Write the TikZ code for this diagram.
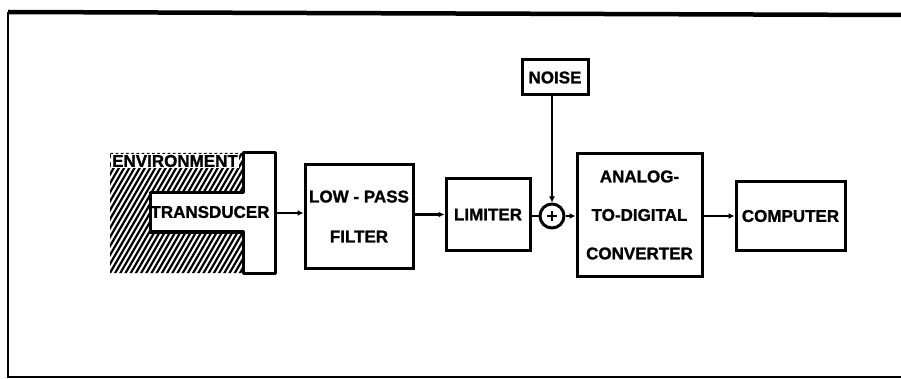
\documentclass[tikz,border=0pt]{standalone}
\usepackage{fontspec}
\setmainfont{Liberation Sans}[BoldFeatures={FakeBold=1.2}]
\usetikzlibrary{arrows.meta}
\begin{document}
\begin{tikzpicture}[x=1pt,y=-1pt,
  lett/.style={font=\fontsize{17}{20}\selectfont\bfseries},
  blk/.style={draw, line width=3pt, inner sep=0pt, lett, align=center},
  conn/.style={line width=2.6pt, -{Latex[length=6pt,width=6pt]}},
  frameline/.style={line width=2pt},
  hatchline/.style={line width=2.2pt}]
\useasboundingbox (0,0) rectangle (901,379);
% frame
\draw[line width=4.5pt] (8,12) -- (901,15);
\draw[frameline] (8,12) -- (8,377) -- (901,377);
% environment hatching
\begin{scope}
  \clip (110,153) -- (243,153) -- (243,193) -- (150,193) -- (150,232) -- (243,232) -- (243,273) -- (110,273) -- cycle;
  \foreach \i in {0,...,50} {
    \draw[hatchline] (36+\i*5.2,275) -- ++(72,-124);
  }
\end{scope}
\node[lett, fill=white, inner sep=1pt] (env) at (175,161) {ENVIRONMENT};
% transducer T-shape
\draw[line width=3pt, line join=round] (150,193) -- (243,193) -- (243,153) -- (275,153) -- (275,273) -- (243,273) -- (243,232) -- (150,232) -- cycle;
\node[lett] (trans) at (210,212) {TRANSDUCER};
\node[minimum width=32pt, minimum height=120pt, inner sep=0pt] (bar) at (259,213) {};
% blocks
\node[blk, minimum width=108pt, minimum height=103pt, font=\fontsize{17}{40}\selectfont\bfseries] (lpf) at (359,216.5) {LOW - PASS\\FILTER};
\node[blk, minimum width=84pt, minimum height=71pt] (lim) at (488,214.5) {LIMITER};
\node[draw, circle, line width=3pt, minimum size=24pt, inner sep=0pt] (sum) at (552,216) {};
\draw[line width=2.6pt] ([xshift=-5pt]sum.center) -- ([xshift=5pt]sum.center)
      ([yshift=-5pt]sum.center) -- ([yshift=5pt]sum.center);
\node[blk, minimum width=66pt, minimum height=35pt] (noise) at (555,77.5) {NOISE};
\node[blk, minimum width=125pt, minimum height=122pt, font=\fontsize{17}{38.5}\selectfont\bfseries] (adc) at (639.5,215) {ANALOG-\\TO-DIGITAL\\CONVERTER};
\node[blk, minimum width=109pt, minimum height=68pt] (comp) at (790.5,216) {COMPUTER};
% connectors
\draw[conn] (bar.east) -- (bar.east -| lpf.west);
\draw[conn] (lpf.east |- lim.west) -- (lim.west);
\draw[line width=2.6pt] (lim.east |- sum.west) -- (sum.west);
\draw[conn] (sum |- noise.south) -- (sum.north);
\draw[conn] (sum.east) -- (sum.east -| adc.west);
\draw[conn] (adc.east |- comp.west) -- (comp.west);
\end{tikzpicture}
\end{document}
